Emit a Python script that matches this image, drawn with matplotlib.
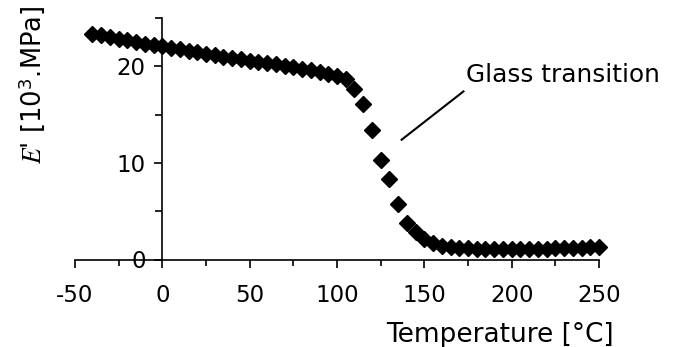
import matplotlib
matplotlib.use("Agg")
import matplotlib.pyplot as plt
from matplotlib.ticker import MultipleLocator

# temperature [°C] and storage modulus E' [10^3 MPa]
temperature = [-40, -35, -30, -25, -20, -15, -10, -5, 0, 5, 10, 15, 20, 25, 30,
               35, 40, 45, 50, 55, 60, 65, 70, 75, 80, 85, 90, 95, 100, 105,
               110, 115, 120, 125, 130, 135, 140, 145, 150, 155, 160, 165, 170,
               175, 180, 185, 190, 195, 200, 205, 210, 215, 220, 225, 230, 235,
               240, 245, 250]
modulus = [23.35, 23.2, 23.0, 22.85, 22.7, 22.5, 22.35, 22.2, 22.05, 21.9, 21.75,
           21.6, 21.45, 21.3, 21.15, 21.0, 20.9, 20.75, 20.6, 20.45, 20.3, 20.2,
           20.05, 19.9, 19.75, 19.6, 19.45, 19.25, 19.0, 18.65, 17.6, 16.1, 13.4,
           10.3, 8.3, 5.7, 3.8, 2.8, 2.1, 1.7, 1.4, 1.3, 1.2, 1.15, 1.1, 1.1,
           1.05, 1.05, 1.05, 1.05, 1.1, 1.1, 1.1, 1.15, 1.15, 1.2, 1.2, 1.25, 1.3]

x_ticks = [-50, 0, 50, 100, 150, 200, 250]
y_ticks = [0, 10, 20]

plt.rcParams['font.family'] = ['DejaVu Sans']
plt.rcParams['mathtext.fontset'] = 'stix'
plt.rcParams['axes.unicode_minus'] = False

fig = plt.figure(figsize=(6.73, 3.47), dpi=100)
ax = fig.add_axes([75 / 673, 1 - 259.5 / 347, 524 / 673, 241.5 / 347])

ax.plot(temperature, modulus, linestyle='none', marker='D', markersize=8,
        color='black', clip_on=False)

ax.set_xlim(-50, 250)
ax.set_ylim(0, 25)
ax.spines['left'].set_position(('data', 0))
ax.spines['top'].set_visible(False)
ax.spines['right'].set_visible(False)
for s in ('left', 'bottom'):
    ax.spines[s].set_linewidth(1.2)

ax.set_xticks(x_ticks)
ax.set_yticks(y_ticks)
ax.xaxis.set_minor_locator(MultipleLocator(25))
ax.yaxis.set_minor_locator(MultipleLocator(5))
ax.tick_params(which='both', direction='out', width=1.2, labelsize=16.5)
ax.tick_params(axis='x', which='major', length=6, pad=12)
ax.tick_params(axis='x', which='minor', length=4.5)
ax.tick_params(axis='y', which='major', length=6, pad=6)
ax.tick_params(axis='y', which='minor', length=5)

# annotation
ax.plot([137, 172.4], [12.4, 17.4], color='black', linewidth=1.5)
ax.text(174, 19.1, 'Glass transition', fontsize=17.8, va='center', ha='left')

fig.text(500 / 673, 1 - 342 / 347, 'Temperature [°C]', fontsize=19,
         ha='center', va='baseline')
fig.text(32 / 673, 1 - 85 / 347, r"$E$' [10$^{\mathdefault{3}}$.MPa]",
         fontsize=18.5, rotation=90, ha='center', va='center')

fig.savefig('out.png', dpi=100)
